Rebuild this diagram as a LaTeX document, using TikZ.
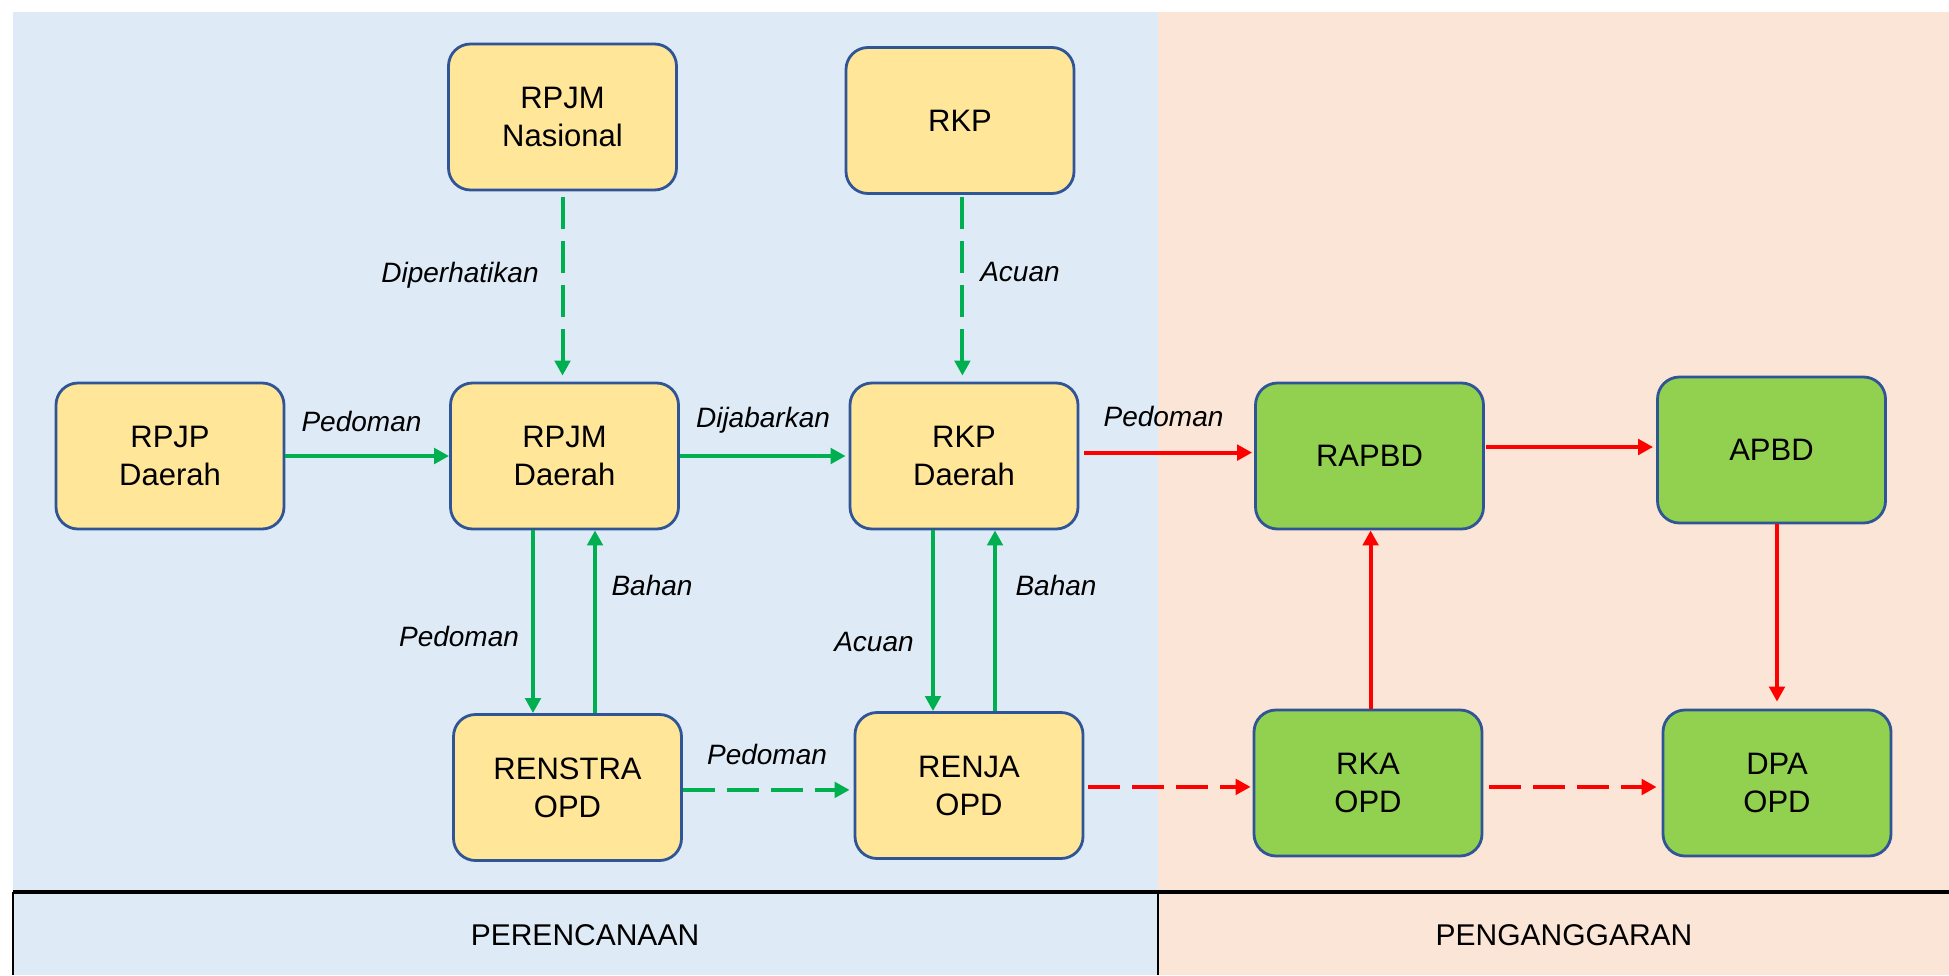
\documentclass[tikz,border=0pt]{standalone}
\usepackage{fontspec}
\setmainfont{Liberation Sans}
\usetikzlibrary{arrows.meta}
\definecolor{bgblue}{HTML}{DEEAF6}
\definecolor{bgorange}{HTML}{FBE5D6}
\definecolor{boxyellow}{HTML}{FFE699}
\definecolor{boxgreen}{HTML}{92D050}
\definecolor{boxborder}{HTML}{2F5597}
\definecolor{arrgreen}{HTML}{00B050}
\definecolor{arrred}{HTML}{FF0000}
\tikzset{
  box/.style={draw=boxborder, line width=1.4pt, rounded corners=11pt,
    minimum width=114pt, minimum height=73pt, align=center, inner sep=0pt,
    font=\fontsize{15.5}{19}\selectfont},
  ybox/.style={box, fill=boxyellow},
  gbox/.style={box, fill=boxgreen},
  tipstyle/.style={-{Triangle[length=7.5pt,width=7.7pt]}},
  garrow/.style={draw=arrgreen, line width=2pt, tipstyle},
  rarrow/.style={draw=arrred, line width=2pt, tipstyle},
  dashline/.style={dash pattern=on 16pt off 6pt},
  lbl/.style={font=\fontsize{14}{17}\selectfont\itshape, inner sep=0pt},
  band/.style={font=\fontsize{15}{18}\selectfont, inner sep=0pt}
}
\begin{document}
\begin{tikzpicture}[x=0.5pt,y=-0.5pt]
\useasboundingbox (0,0) rectangle (1949,975);
% backgrounds
\fill[bgblue] (13,12) rectangle (1158,975);
\fill[bgorange] (1158,12) rectangle (1949,975);
\draw[line width=1.7pt] (13,892) -- (1949,892);
\draw[line width=1.1pt] (13,892) -- (13,975);
\draw[line width=1.1pt] (1158,892) -- (1158,975);
\node[band] (perenc) at (585,935) {PERENCANAAN};
\node[band] (pengang) at (1564,935) {PENGANGGARAN};
% nodes
\node[ybox] (rpjmn) at (562.5,117) {RPJM\\Nasional};
\node[ybox] (rkp) at (960,120.5) {RKP};
\node[ybox] (rpjpd) at (170,456) {RPJP\\Daerah};
\node[ybox] (rpjmd) at (564.5,456) {RPJM\\Daerah};
\node[ybox] (rkpd) at (964,456) {RKP\\Daerah};
\node[gbox] (rapbd) at (1369.5,456) {RAPBD};
\node[gbox] (apbd) at (1771.5,450) {APBD};
\node[ybox] (renstra) at (567.5,787.5) {RENSTRA\\OPD};
\node[ybox] (renja) at (969,785.5) {RENJA\\OPD};
\node[gbox] (rka) at (1368,783) {RKA\\OPD};
\node[gbox] (dpa) at (1777,783) {DPA\\OPD};
% connectors
\draw[garrow, dashline, shorten <=3pt, shorten >=3pt] (rpjmn.south) -- (rpjmn.south |- rpjmd.north);
\draw[garrow, dashline, shorten <=1pt, shorten >=3pt] ([xshift=1.2pt]rkp.south) -- ([xshift=1.2pt]rkp.south |- rkpd.north);
\draw[garrow] (rpjpd.east) -- (rpjmd.west);
\draw[garrow, shorten >=1.5pt] (rpjmd.east) -- (rkpd.west);
\draw[rarrow, shorten <=2.5pt, shorten >=1pt] ([yshift=1.7pt]rkpd.east) -- ([yshift=1.7pt]rapbd.west);
\draw[rarrow, shorten <=0.5pt, shorten >=1.5pt] ([yshift=1.5pt]rapbd.east |- apbd.west) -- ([yshift=1.5pt]apbd.west);
\draw[rarrow, shorten >=3.5pt] (apbd.south -| dpa.north) -- (dpa.north);
\draw[rarrow] ([xshift=1.3pt]rka.north) -- ([xshift=1.3pt]rka.north |- rapbd.south);
\draw[garrow, line width=1.8pt] ([xshift=-15.75pt]rpjmd.south) -- ([xshift=-15.75pt]rpjmd.south |- renstra.north);
\draw[garrow, line width=1.8pt] ([xshift=13.75pt]renstra.north) -- ([xshift=13.75pt]renstra.north |- rpjmd.south);
\draw[garrow, line width=1.8pt] ([xshift=-15.5pt]rkpd.south) -- ([xshift=-15.5pt]rkpd.south |- renja.north);
\draw[garrow, line width=1.8pt] ([xshift=13pt]renja.north) -- ([xshift=13pt]renja.north |- rkpd.south);
\draw[garrow, dashline, shorten >=2pt] ([yshift=-1.2pt]renstra.east) -- ([yshift=-1.2pt]renstra.east -| renja.west);
\draw[rarrow, dashline, shorten <=2pt, shorten >=1pt] ([yshift=-0.7pt]renja.east) -- ([yshift=-0.7pt]renja.east -| rka.west);
\draw[rarrow, dashline, shorten <=3pt, shorten >=2.5pt] ([yshift=-2pt]rka.east) -- ([yshift=-2pt]rka.east -| dpa.west);
% labels
\node[lbl] (l1) at (460,275) {Diperhatikan};
\node[lbl] (l2) at (1020,272) {Acuan};
\node[lbl] (l3) at (361.5,421) {Pedoman};
\node[lbl] (l4) at (763,420) {Dijabarkan};
\node[lbl] (l5) at (1163.5,416) {Pedoman};
\node[lbl] (l6) at (459,636) {Pedoman};
\node[lbl] (l7) at (652,585) {Bahan};
\node[lbl] (l8) at (874,642) {Acuan};
\node[lbl] (l9) at (1056,585) {Bahan};
\node[lbl] (l10) at (767,754) {Pedoman};
\end{tikzpicture}
\end{document}
